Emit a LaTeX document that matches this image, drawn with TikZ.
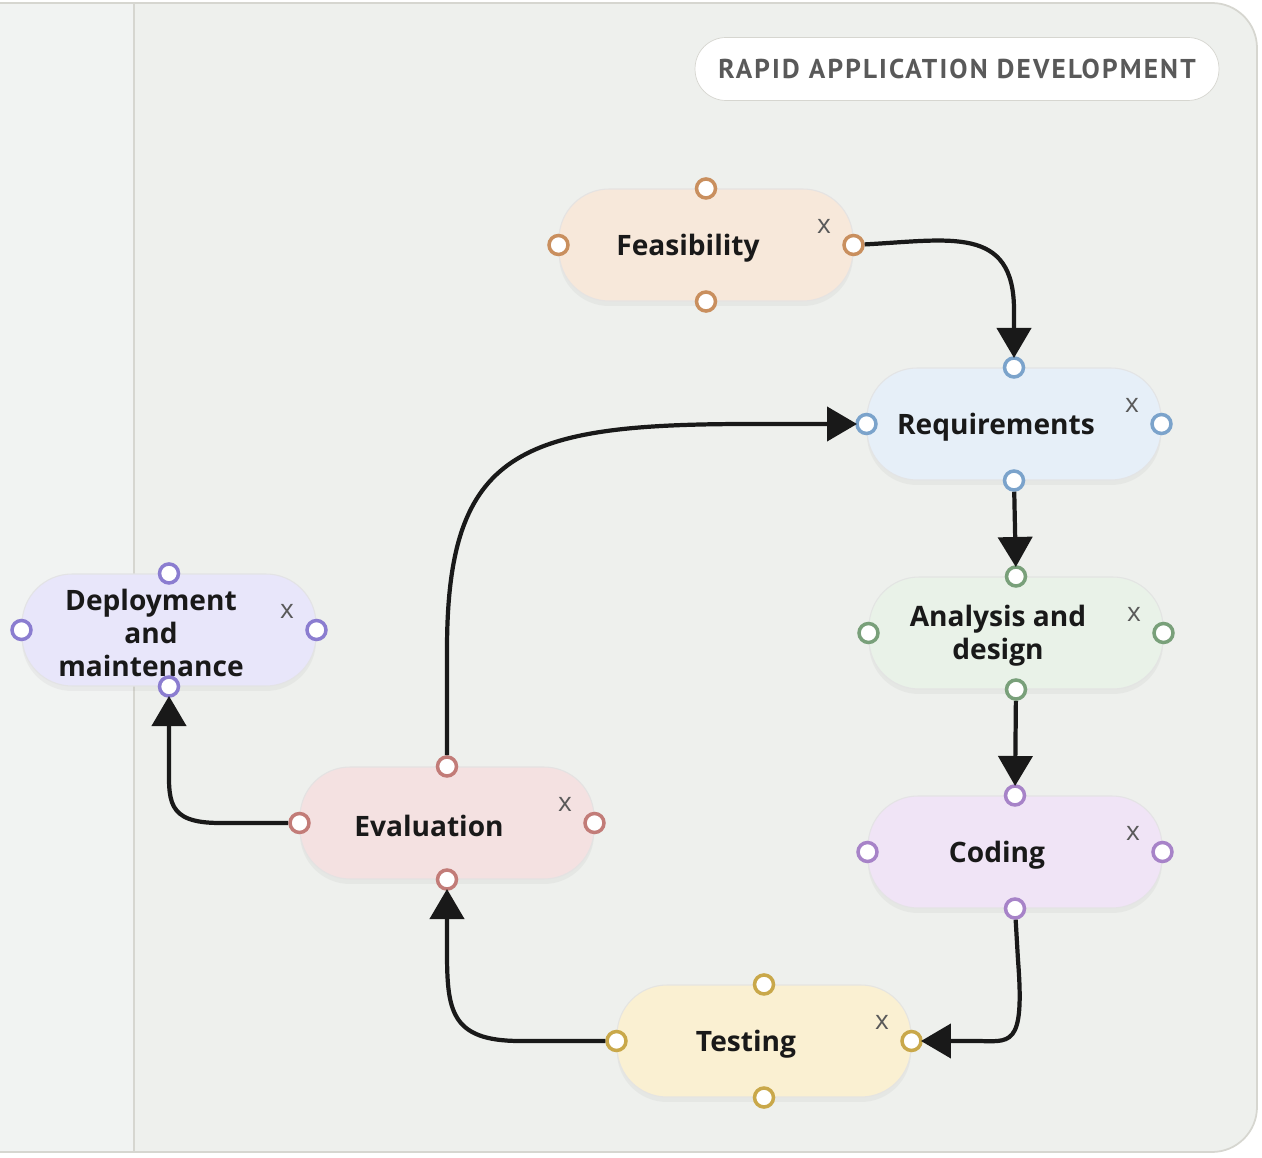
\documentclass[tikz,border=0pt]{standalone}
\usepackage{fontspec}
\setmainfont{Open Sans}
\newfontfamily\titlefont[LetterSpace=8]{PT Sans}
\usetikzlibrary{arrows.meta,shadows}
\definecolor{bgA}{HTML}{EEF0ED}
\definecolor{bgB}{HTML}{F1F3F2}
\definecolor{edgeC}{HTML}{D6D6D0}
\definecolor{feaF}{HTML}{F7E8DA}\definecolor{feaP}{HTML}{C98F5E}
\definecolor{reqF}{HTML}{E6EFF8}\definecolor{reqP}{HTML}{7BA3CB}
\definecolor{anaF}{HTML}{E9F2E8}\definecolor{anaP}{HTML}{79A07A}
\definecolor{codF}{HTML}{F0E4F6}\definecolor{codP}{HTML}{A783C8}
\definecolor{tesF}{HTML}{FAF0D2}\definecolor{tesP}{HTML}{C9A84A}
\definecolor{evaF}{HTML}{F4E1E1}\definecolor{evaP}{HTML}{C27C78}
\definecolor{depF}{HTML}{E8E6FA}\definecolor{depP}{HTML}{8B7DD0}
\tikzset{
  stage/.style={draw=#1!50!black!20, fill=#1, rounded corners=1cm,
    minimum width=5.88cm, minimum height=2.24cm, line width=0.6pt,
    drop shadow={shadow xshift=0pt, shadow yshift=-0.1cm, opacity=0.08}},
  label/.style={font=\bfseries\fontsize{16}{19}\selectfont, text=black!90,
    align=center},
  port/.style={circle, draw=#1, fill=white, line width=2pt,
    minimum size=0.38cm, inner sep=0pt},
  close/.style={font=\fontsize{15}{15}\selectfont, text=black!65},
  flow/.style={line width=2.4pt, black!90,
    -{Triangle[length=0.6cm,width=0.68cm]}, shorten >=-1pt}
}
% place a stage: #1 name, #2 colour prefix, #3 position, #4 text
\newcommand\stagenode[4]{%
  \node[stage=#2F] (#1) at (#3) {};
  \node[label] (#1-t) at ([xshift=-0.36cm,yshift=-0.06cm]#1.center) {#4};
  \node[close] (#1-x) at ([xshift=2.36cm,yshift=0.38cm]#1.center) {x};
  \node[port=#2P] (#1-n) at (#1.north) {};
  \node[port=#2P] (#1-s) at (#1.south) {};
  \node[port=#2P] (#1-e) at (#1.east) {};
  \node[port=#2P] (#1-w) at (#1.west) {};
}
\begin{document}
\begin{tikzpicture}[x=0.02cm,y=-0.02cm]
\useasboundingbox (0,0) rectangle (1262,1158);

% panel
\fill[bgA, rounded corners=0.9cm] (-50,3) rectangle (1257,1152);
\draw[edgeC, line width=1pt, rounded corners=0.9cm] (-50,3) rectangle (1257,1152);
\fill[bgB] (0,4) rectangle (134,1151);
\draw[edgeC, line width=1pt] (134,4) -- (134,1151);

\node[draw=edgeC, fill=white, rounded corners=0.62cm, minimum width=10.48cm,
  minimum height=1.26cm, text=black!65,
  font=\titlefont\bfseries\fontsize{15.5}{16}\selectfont] (title) at (957,69)
  {RAPID APPLICATION DEVELOPMENT};

\stagenode{fea}{fea}{706,245}{Feasibility}
\stagenode{req}{req}{1014,424}{Requirements}
\stagenode{ana}{ana}{1016,633}{Analysis and\\design}
\stagenode{cod}{cod}{1015,852}{Coding}
\stagenode{tes}{tes}{764,1041}{Testing}
\stagenode{eva}{eva}{447,823}{Evaluation}
\stagenode{dep}{dep}{169,630}{Deployment\\and\\maintenance}

\draw[flow] (fea-e) .. controls (950,240) and (1014,225) .. (1014,310) -- (req-n);
\draw[flow] (req-s) -- (ana-n);
\draw[flow] (ana-s) -- (cod-n);
\draw[flow] (cod-s) -- (1018,960) .. controls (1025,1050) and (1010,1041) .. (975,1041) -- (tes-e);
\draw[flow] (tes-w) -- (520,1041) .. controls (450,1041) and (447,1010) .. (447,950) -- (eva-s);
\draw[flow] (eva-n) -- (447,650) .. controls (447,450) and (520,424) .. (750,424) -- (req-w);
\draw[flow] (eva-w) -- (220,823) .. controls (165,823) and (169,800) .. (169,760) -- (dep-s);
\end{tikzpicture}
\end{document}
